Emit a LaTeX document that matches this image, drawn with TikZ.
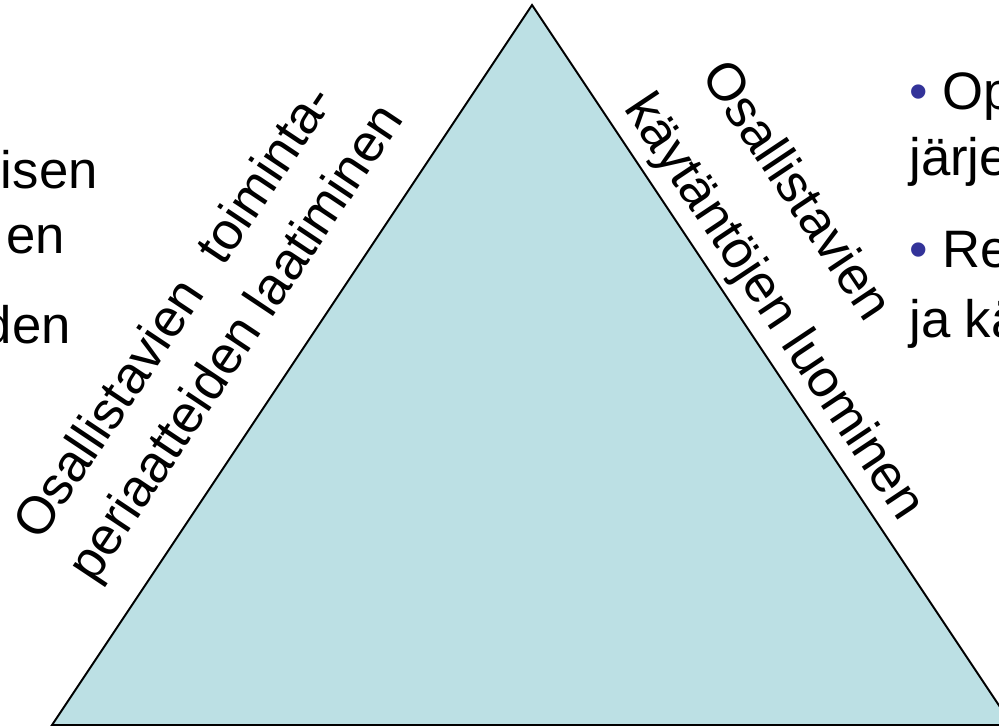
\documentclass[tikz,border=0pt]{standalone}
\usepackage{fontspec}
\setmainfont{Liberation Sans}
\usetikzlibrary{positioning}
\definecolor{trifill}{RGB}{188,224,228}
\definecolor{bulletblue}{RGB}{51,51,153}
\newcommand{\bul}{\textcolor{bulletblue}{\textbullet}\ }
\begin{document}
\begin{tikzpicture}[x=0.02cm, y=-0.02cm,
		edgetext/.style={inner sep=0pt, font=\fontsize{30}{36}\selectfont},
		slidetext/.style={inner sep=0pt, font=\fontsize{30}{36}\selectfont}]
			\useasboundingbox (0,0) rectangle (999,726);
			\clip (0,0) rectangle (999,726);
			% Draw the triangle
			\coordinate (top) at (532,5);
			\coordinate (bl) at (52,725);
			\coordinate (br) at (1012,725);
			\filldraw[fill=trifill, draw=black, line width=1.1pt, line join=miter] (top) -- (bl) -- (br) -- cycle;
			% Labels along the two sides
			\node[edgetext, anchor=base west, rotate=56.31] (L-1) at (40,543) {Osallistavien\hspace{0.6em}toiminta-};
			\node[edgetext, anchor=base west, rotate=56.31] (L-2) at (94,585) {periaatteiden laatiminen};
			\node[edgetext, anchor=base west, rotate=-56.31] (R-1) at (700,75) {Osallistavien};
			\node[edgetext, anchor=base west, rotate=-56.31] (R-2) at (623,108) {käytäntöjen luominen};
			% Text cut by the left and right borders
			\foreach \w/\x/\y in {isen/98/188, en/65/253, den/71/343}{
				\node[slidetext, anchor=base east] (C-\w) at (\x,\y) {\w};
			}
			\foreach \t/\y [count=\i] in {{\bul Op}/110, järje/175, {\bul Re}/267, ja kä/337}{
				\node[slidetext, anchor=base west] (B-\i) at (909,\y) {\t};
			}
		\end{tikzpicture}
\end{document}
